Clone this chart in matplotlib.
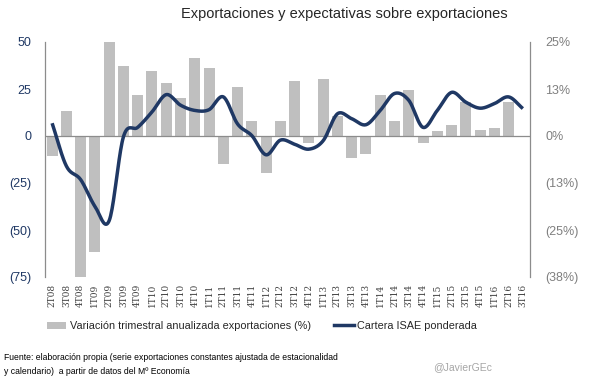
import numpy as np
import matplotlib
matplotlib.use("Agg")
import matplotlib.pyplot as plt
from matplotlib.ticker import FixedLocator, FuncFormatter
from matplotlib.patches import Patch
from matplotlib.lines import Line2D

plt.rcParams['font.family'] = ['Liberation Sans', 'DejaVu Sans']

quarters = ["2T08", "3T08", "4T08", "1T09", "2T09", "3T09", "4T09", "1T10", "2T10", "3T10",
            "4T10", "1T11", "2T11", "3T11", "4T11", "1T12", "2T12", "3T12", "4T12", "1T13",
            "2T13", "3T13", "4T13", "1T14", "2T14", "3T14", "4T14", "1T15", "2T15", "3T15",
            "4T15", "1T16", "2T16", "3T16"]
exports = [-10.6, 13.3, -76, -61.6, 50, 37.5, 21.7, 34.6, 28.3, 20.3,
           41.6, 36.2, -14.7, 26.0, 7.9, -19.5, 8.2, 29.2, -3.9, 30.3,
           10.9, -11.5, -9.7, 21.7, 7.9, 24.4, -3.9, 2.5, 6.1, 18.1,
           3.4, 4.5, 18.1, np.nan]
isae = [3.4, -8.0, -11.6, -18.7, -22.5, -0.2, 2.3, 6.4, 11.0, 8.2,
        6.8, 7.0, 10.4, 3.2, 0.1, -5.0, -1.1, -2.2, -3.5, -1.25,
        5.9, 4.6, 3.0, 6.8, 11.3, 9.5, 2.3, 6.8, 11.6, 9.0,
        7.4, 8.6, 10.4, 7.3]
left_ticks = [50, 25, 0, -25, -50, -75]
right_ticks = [25, 12.5, 0, -12.5, -25, -37.5]

def fmt_paren(v, pct=False):
    r = int(np.floor(abs(v) + 0.5))
    s = f"{r}%" if pct else f"{r}"
    return f"({s})" if v < 0 else s

def smooth(xs, ys, n=20):
    # Catmull-Rom style curve through the given points (like a smoothed Excel line)
    xs = np.asarray(xs, float); ys = np.asarray(ys, float)
    px = np.concatenate([[2*xs[0]-xs[1]], xs, [2*xs[-1]-xs[-2]]])
    py = np.concatenate([[2*ys[0]-ys[1]], ys, [2*ys[-1]-ys[-2]]])
    outx, outy = [], []
    t = np.linspace(0, 1, n, endpoint=False)
    for i in range(1, len(px)-2):
        p0, p1, p2, p3 = [np.array([px[j], py[j]]) for j in (i-1, i, i+1, i+2)]
        b1 = p1 + (p2 - p0) / 6
        b2 = p2 - (p3 - p1) / 6
        pts = ((1-t)**3)[:, None]*p1 + (3*(1-t)**2*t)[:, None]*b1 + (3*(1-t)*t**2)[:, None]*b2 + (t**3)[:, None]*p2
        outx.extend(pts[:, 0]); outy.extend(pts[:, 1])
    outx.append(xs[-1]); outy.append(ys[-1])
    return np.array(outx), np.array(outy)

bar_color = "#BFBFBF"
line_color = "#1F3864"
axis_gray = "#8C8C8C"

fig = plt.figure(figsize=(6.05, 3.78), dpi=100)
ax = fig.add_axes([45/605, 1-277/378, 485/605, 235/378])
x = np.arange(len(quarters))
ax.bar(x, exports, width=0.77, color=bar_color, zorder=1, clip_on=True)
ax.set_xlim(-0.5, len(quarters)-0.5)
ax.set_ylim(-75, 50)
ax.axhline(0, color=axis_gray, lw=0.9, zorder=2)

for s in ["top", "bottom", "right"]:
    ax.spines[s].set_visible(False)
ax.spines["left"].set_color(axis_gray)
ax.spines["left"].set_linewidth(0.9)
ax.yaxis.set_major_locator(FixedLocator(left_ticks))
ax.yaxis.set_major_formatter(FuncFormatter(lambda v, p: fmt_paren(v)))
ax.tick_params(axis="y", length=0, pad=10, labelsize=9, labelcolor="#1F3864")
ax.set_xticks(x)
ax.set_xticklabels(quarters, rotation=90, fontsize=6.5, family="DejaVu Serif", color="#404040")
ax.tick_params(axis="x", length=0, pad=5)

ax2 = ax.twinx()
ax2.set_ylim(-37.5, 25)
for s in ["top", "bottom", "left"]:
    ax2.spines[s].set_visible(False)
ax2.spines["right"].set_color(axis_gray)
ax2.spines["right"].set_linewidth(0.9)
ax2.yaxis.set_major_locator(FixedLocator(right_ticks))
ax2.yaxis.set_major_formatter(FuncFormatter(lambda v, p: fmt_paren(v, pct=True)))
ax2.tick_params(axis="y", length=0, pad=11, labelsize=9, labelcolor="#7F7F7F")
sx, sy = smooth(x, isae)
ax2.plot(sx, sy, color=line_color, lw=2.5, solid_capstyle="butt", zorder=3)

fig.text(344/605, 1-14/378, "Exportaciones y expectativas sobre exportaciones",
         ha="center", va="center", fontsize=10.5, color="#262626")

handles = [Patch(facecolor=bar_color, edgecolor="none"),
           Line2D([0], [0], color=line_color, lw=2.5)]
fig.legend(handles, ["Variación trimestral anualizada exportaciones (%)", "Cartera ISAE ponderada"],
           loc="center", bbox_to_anchor=(262/605, 1-326/378), ncol=2, frameon=False,
           fontsize=7.8, handlelength=1.8, handleheight=0.6, handletextpad=0.3, columnspacing=2.2,
           labelcolor="#262626")

fig.text(4/605, 1-358/378, "Fuente: elaboración propia (serie exportaciones constantes ajustada de estacionalidad",
         ha="left", va="center", fontsize=6.2, color="#000000")
fig.text(4/605, 1-371/378, "y calendario)  a partir de datos del Mº Economía",
         ha="left", va="center", fontsize=6.2, color="#000000")
fig.text(463/605, 1-367/378, "@JavierGEc", ha="center", va="center", fontsize=7.5, color="#A6A6A6")

fig.savefig("out.png", dpi=100)
